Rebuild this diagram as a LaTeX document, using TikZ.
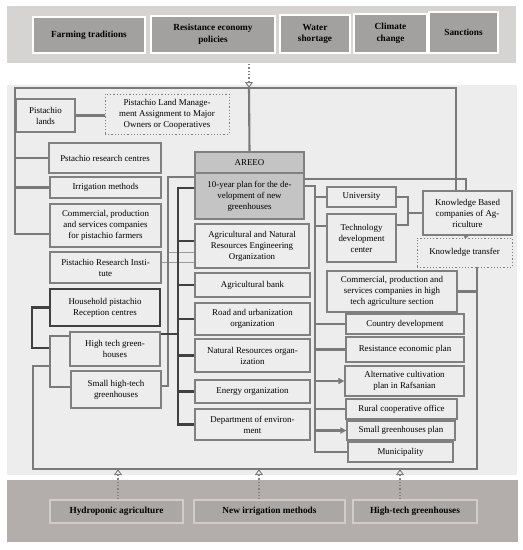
\documentclass[tikz,border=0pt]{standalone}
\usepackage{fontspec}
\setmainfont{Liberation Serif}
\usetikzlibrary{arrows.meta,calc}
\definecolor{band}{HTML}{D6D3D3}
\definecolor{topbox}{HTML}{A3A1A0}
\definecolor{panel}{HTML}{EDEDED}
\definecolor{boxgray}{HTML}{808080}
\definecolor{linegray}{HTML}{7A7A7A}
\definecolor{thingray}{HTML}{9A9A9A}
\definecolor{darkline}{HTML}{404040}
\definecolor{areeo}{HTML}{C4C4C4}
\definecolor{botband}{HTML}{B3AEAB}
\definecolor{botbox}{HTML}{ABA7A4}
\definecolor{botedge}{HTML}{D0CCC9}
\begin{document}
\begin{tikzpicture}[x=1pt,y=-1pt,
  bx/.style={draw=boxgray, line width=1.2pt, fill=panel, align=center, inner sep=1pt,
    font=\fontsize{8.9}{11}\selectfont},
  dotbx/.style={bx, dotted, line width=0.9pt},
  darkbx/.style={bx, draw=darkline, line width=1.6pt},
  areeobx/.style={bx, fill=areeo},
  topbx/.style={draw=white, line width=1.6pt, fill=topbox, align=center, inner sep=1pt,
    font=\fontsize{9.3}{11.5}\selectfont\bfseries},
  botbx/.style={draw=botedge, line width=1.2pt, fill=botbox, align=center, inner sep=1pt,
    font=\fontsize{9.3}{11.5}\selectfont\bfseries},
  gl/.style={draw=linegray, line width=2.1pt, line join=miter},
  dl/.style={draw=darkline, line width=2.1pt},
  tl/.style={draw=thingray, line width=1pt},
  arr/.style={gl, -{Triangle[length=6pt,width=6pt]}},
  dotarr/.style={draw=boxgray, dotted, line width=1.3pt,
    -{Triangle[open,length=6pt,width=8pt,line width=1pt]}}
]
\useasboundingbox (0,0) rectangle (523,550);
% backgrounds
\fill[band] (7,6) rectangle (516,63);
\fill[panel] (7,85) rectangle (517,475);
\fill[botband] (7,480) rectangle (518,542);

% top boxes
\node[topbx, minimum width=112pt, minimum height=36pt] (T1) at (89,35) {Farming traditions};
\node[topbx, minimum width=124pt, minimum height=37pt] (T2) at (213,34.5) {Resistance economy\\policies};
\node[topbx, minimum width=70pt, minimum height=38pt] (T3) at (315,34) {Water\\shortage};
\node[topbx, minimum width=73pt, minimum height=39pt] (T4) at (390.5,33.5) {Climate\\change};
\node[topbx, minimum width=69pt, minimum height=41pt] (T5) at (463.5,32.5) {Sanctions};

% left column
\node[bx, minimum width=59pt, minimum height=33pt] (L1) at (45.5,115.5) {Pistachio\\lands};
\node[dotbx, minimum width=124pt, minimum height=40pt] (L2) at (167,114) {Pistachio Land Manage-\\ment Assignment to Major\\Owners or Cooperatives};
\node[bx, minimum width=112pt, minimum height=30pt] (L3) at (105,158) {Pstachio research centres};
\node[bx, minimum width=111pt, minimum height=21pt] (L4) at (105.5,187.5) {Irrigation methods};
\node[bx, minimum width=111pt, minimum height=43pt] (L5) at (105.5,225.5) {Commercial, production\\and services companies\\for pistachio farmers};
\node[bx, minimum width=111pt, minimum height=31pt] (L6) at (105.5,267.5) {Pistachio Research Insti-\\tute};
\node[darkbx, minimum width=110pt, minimum height=37pt] (L7) at (105,307.5) {Household pistachio\\Reception centres};
\node[bx, minimum width=90pt, minimum height=34pt] (L8) at (115,349) {High tech green-\\houses};
\node[bx, minimum width=90pt, minimum height=37pt] (L9) at (116,389.5) {Small high-tech\\greenhouses};

% middle column
\node[areeobx, minimum width=109pt, minimum height=21pt] (M0h) at (249.5,162.5) {AREEO};
\node[areeobx, minimum width=109pt, minimum height=46pt] (M0) at (249.5,196) {10-year plan for the de-\\velopment of new\\greenhouses};
\node[bx, minimum width=114pt, minimum height=44pt] (M1) at (252,246) {Agricultural and Natural\\Resources Engineering\\Organization};
\node[bx, minimum width=115pt, minimum height=24pt] (M2) at (252.5,285) {Agricultural bank};
\node[bx, minimum width=115pt, minimum height=32pt] (M3) at (252.5,319) {Road and urbanization\\organization};
\node[bx, minimum width=115pt, minimum height=33pt] (M4) at (252.5,355.5) {Natural Resources organ-\\ization};
\node[bx, minimum width=115pt, minimum height=23pt] (M5) at (252.5,391.5) {Energy organization};
\node[bx, minimum width=115pt, minimum height=31pt] (M6) at (252.5,424.5) {Department of environ-\\ment};

% right column
\node[bx, minimum width=69pt, minimum height=20pt] (R1) at (361.5,197) {University};
\node[bx, minimum width=69pt, minimum height=48pt] (R2) at (361.5,238) {Technology\\development\\center};
\node[bx, minimum width=89pt, minimum height=44pt] (R3) at (467.5,213) {Knowledge Based\\companies of Ag-\\riculture};
\node[dotbx, minimum width=95pt, minimum height=29pt] (R4) at (464.5,252.5) {Knowledge transfer};
\node[bx, minimum width=130pt, minimum height=41pt] (R5) at (392,291.5) {Commercial, production and\\services companies in high\\tech agriculture section};
\node[bx, minimum width=118pt, minimum height=20pt] (R6) at (405,324) {Country development};
\node[bx, minimum width=118pt, minimum height=25pt] (R7) at (405,349.5) {Resistance economic plan};
\node[bx, minimum width=119pt, minimum height=30pt] (R8) at (404.5,381) {Alternative cultivation\\plan in Rafsanian};
\node[bx, minimum width=111pt, minimum height=20pt] (R9) at (401.5,409) {Rural cooperative office};
\node[bx, minimum width=108pt, minimum height=19pt] (R10) at (401,430.5) {Small greenhouses plan};
\node[bx, minimum width=105pt, minimum height=20pt] (R11) at (400.5,452) {Municipality};

% bottom boxes
\node[botbx, minimum width=133pt, minimum height=23pt] (B1) at (116.5,511.5) {Hydroponic agriculture};
\node[botbx, minimum width=151pt, minimum height=23pt] (B2) at (269.5,511.5) {New irrigation methods};
\node[botbx, minimum width=124pt, minimum height=23pt] (B3) at (415,511.5) {High-tech greenhouses};

% coordinates
\coordinate (top) at (249,64);
\coordinate (fTC) at (249,88);
\coordinate (fTL) at (15,88);
\coordinate (fTR) at (456,88);
\coordinate (fL) at (15,234);
\coordinate (hT) at (50,336);
\coordinate (hB) at (50,387);
\coordinate (hJ) at (50,348);
\coordinate (hK) at (32,348);
\coordinate (fBR) at (477,469);
\coordinate (fBL) at (33,469);
\coordinate (fLm) at (33,366);
\coordinate (dT) at (178,188);
\coordinate (dB) at (178,424.5);
\coordinate (d1) at (178,241);
\coordinate (d8) at (178,334);
\coordinate (gT) at (168,177);
\coordinate (gB) at (168,386);
\coordinate (g1) at (168,252);
\coordinate (g2) at (161,262);
\coordinate (rT) at (315,186);
\coordinate (rB) at (315,452);
\coordinate (r2) at (315,226);
\coordinate (kB) at (466,179);
\coordinate (uT) at (408,197);
\coordinate (uB) at (408,225);
\coordinate (fb1) at (118,469);
\coordinate (fb2) at (259,469);
\coordinate (fb3) at (400,469);

% top arrow and frame
\draw[dotarr] (top) -- (fTC);
\draw[gl] (fTR |- R3.north) -- (fTR) -- (fTL) -- (fL) -- (fL -| L5.west);
\draw[gl] (fTC) -- (M0h.north);
\draw[gl] (fTL |- L3.west) -- (L3.west);
\draw[gl] (fTL |- L4.west) -- (L4.west);
\draw[gl] (L1.east) -- (L1.east -| L2.west);

% household bracket
\draw[dl] (L7.west) -| (hK) -- (hJ);
% high tech bracket
\draw[gl] (L8.west |- hT) -- (hT) -- (hB) -- (L9.west |- hB);

% bottom frame
\draw[gl] (R4.south -| fBR) -- (fBR) -- (fBL) -- (fLm) -- (fLm -| hT);
\draw[gl] (R5.east) -- (R5.east -| fBR);

% thin lines
\draw[tl] (g1) -- (g1 -| M1.west);
\draw[tl] (L6.east |- g2) -- (g2 -| M1.west);

% grey line x=168
\draw[gl] (L9.east |- gB) -- (gB) -- (gT) -- (gT -| M0.west);

% dark centre line
\draw[dl] (M0.west |- dT) -- (dT) -- (dB) -- (M6.west);
\draw[dl] (d1) -- (d1 -| M1.west);
\draw[dl] (dT |- M2.west) -- (M2.west);
\draw[dl] (dT |- M3.west) -- (M3.west);
\draw[dl] (dT |- M4.west) -- (M4.west);
\draw[dl] (dT |- M5.west) -- (M5.west);
\draw[dl] (d8) -- (d8 -| L8.east);

% right grey line x=315
\draw[gl] (M0.east |- rT) -- (rT) -- (rB) -- (rB -| R11.west);
\draw[gl] (M0.east |- kB) -- (kB) -- (kB |- R3.north);
\draw[gl] (rT |- R1.west) -- (R1.west);
\draw[gl] (r2) -- (r2 -| R2.west);
\draw[gl] (rT |- R6.west) -- (R6.west);
\draw[gl] (rT |- R7.west) -- (R7.west);
\draw[arr] (rT |- R8.west) -- (R8.west);
\draw[gl] (rT |- R9.west) -- (R9.west);
\draw[arr] (rT |- R10.west) -- (R10.west);

% university / technology bracket
\draw[gl] (R1.east) -- (uT) -- (uB) -- (uB -| R2.east);
\draw[gl] (uT |- R3.west) -- (R3.west);
\draw[gl] (R3.south) -- (R4.north);

% bottom arrows
\draw[dotarr] (B1.north -| fb1) -- (fb1);
\draw[dotarr] (B2.north -| fb2) -- (fb2);
\draw[dotarr] (B3.north -| fb3) -- (fb3);
\end{tikzpicture}
\end{document}
